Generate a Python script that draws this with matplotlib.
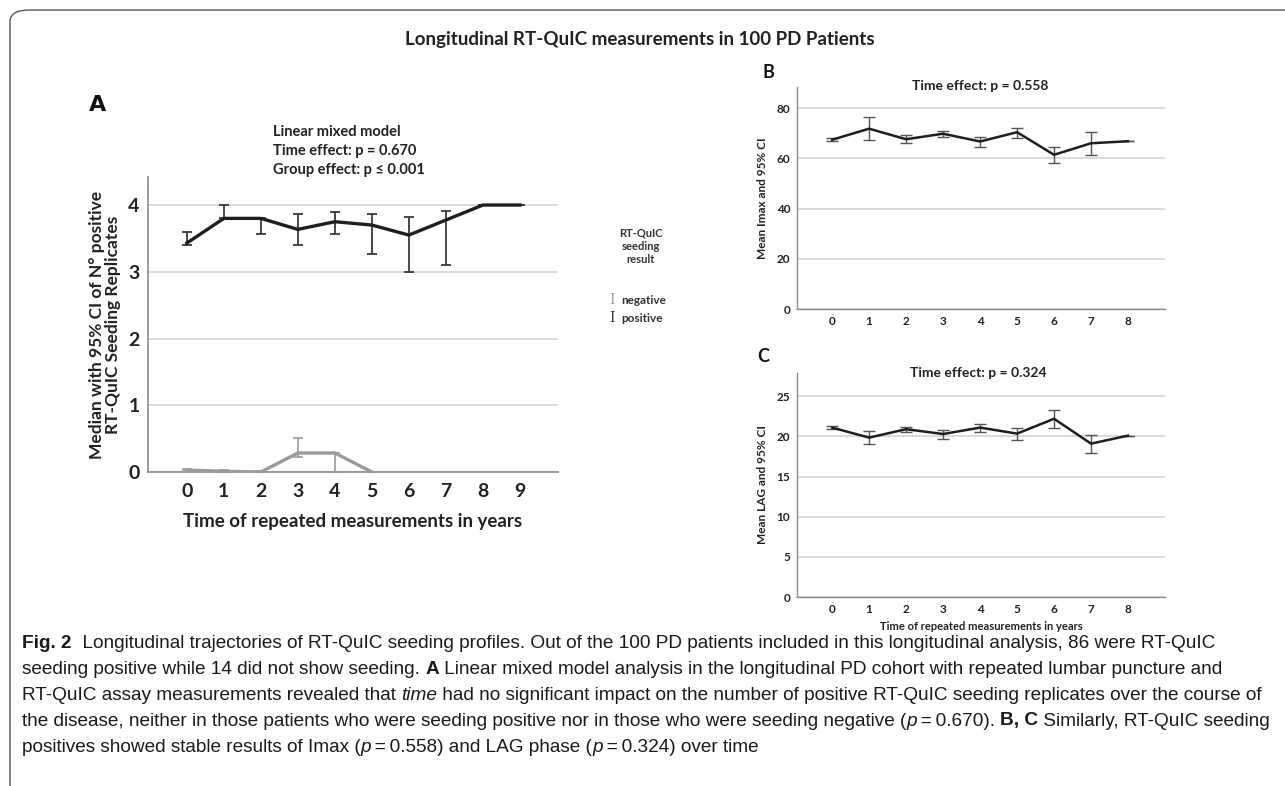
import matplotlib
matplotlib.use("Agg")
import matplotlib.pyplot as plt
from matplotlib.patches import FancyBboxPatch
import numpy as np

# ---------------- data ----------------
years_a = [0, 1, 2, 3, 4, 5, 6, 7, 8, 9]
pos_median = [3.43, 3.80, 3.80, 3.635, 3.75, 3.70, 3.55, 3.775, 4.0, 4.0]
pos_lo = [3.40, 3.80, 3.57, 3.40, 3.56, 3.265, 2.99, 3.095, 4.0, 4.0]
pos_hi = [3.60, 4.00, 3.80, 3.86, 3.89, 3.86, 3.815, 3.915, 4.0, 4.0]

years_neg = [0, 1, 2, 3, 4, 5]
neg_median = [0.03, 0.01, 0.0, 0.285, 0.285, 0.0]
neg_lo = [0.01, 0.0, 0.0, 0.22, 0.0, 0.0]
neg_hi = [0.05, 0.03, 0.02, 0.51, 0.285, 0.0]

years_bc = [0, 1, 2, 3, 4, 5, 6, 7, 8]
imax_mean = [67.4, 71.8, 67.6, 69.8, 66.7, 70.4, 61.4, 66.0, 66.8]
imax_lo = [67.0, 67.2, 66.2, 68.4, 64.6, 68.2, 58.2, 61.4, 66.8]
imax_hi = [68.0, 76.3, 69.1, 71.0, 68.4, 72.1, 64.5, 70.4, 66.8]

lag_mean = [21.1, 19.85, 20.9, 20.3, 21.1, 20.35, 22.2, 19.1, 20.1]
lag_lo = [20.9, 19.1, 20.6, 19.7, 20.6, 19.5, 21.0, 17.9, 20.1]
lag_hi = [21.3, 20.7, 21.2, 20.8, 21.55, 21.05, 23.3, 20.2, 20.1]

a_yticks = [0, 1, 2, 3, 4]
b_yticks = [0, 20, 40, 60, 80]
c_yticks = [0, 5, 10, 15, 20, 25]

W, H = 1285, 786
CF = ["Lato", "DejaVu Sans"]
fig = plt.figure(figsize=(W / 100, H / 100), dpi=100)
fig.patch.set_facecolor("white")


def fx(px):
    return px / W


def fy(py):
    return 1 - py / H


# frame
frame = FancyBboxPatch((fx(10), fy(800)), fx(1300), fy(10) - fy(800),
                       boxstyle="round,pad=0,rounding_size=0.015",
                       transform=fig.transFigure, fill=False,
                       edgecolor="#555555", linewidth=1.0, zorder=0)
fig.patches.append(frame)

GRID = "#d4d4d4"
SPINE = "#8c8c8c"


def style_axes(ax, yticks, size):
    for s in ["top", "right"]:
        ax.spines[s].set_visible(False)
    for s in ["left", "bottom"]:
        ax.spines[s].set_color(SPINE)
        ax.spines[s].set_linewidth(1.2)
    ax.set_yticks(yticks)
    ax.tick_params(length=0, labelsize=size, colors="#222222", pad=5)
    for lab in ax.get_xticklabels() + ax.get_yticklabels():
        lab.set_fontfamily(CF)
        lab.set_fontweight("bold")
    ax.yaxis.grid(True, color=GRID, linewidth=1.2)
    ax.set_axisbelow(True)


# ---------------- panel A ----------------
axA = fig.add_axes([fx(148), fy(472), fx(410), fy(177) - fy(472)])
axA.set_xlim(-1.05, 10.03)
axA.set_ylim(0, 4.42)
axA.set_xticks(years_a)
style_axes(axA, a_yticks, 14)
axA.tick_params(axis="x", pad=8)
axA.tick_params(axis="y", pad=6)

neg_m = np.array(neg_median)
axA.errorbar(years_neg, neg_m, yerr=[neg_m - np.array(neg_lo), np.array(neg_hi) - neg_m],
             color="#9a9a9a", linewidth=2.4, ecolor="#9a9a9a", elinewidth=1.2,
             capsize=3.6, capthick=1.2, zorder=3)
pos_m = np.array(pos_median)
axA.errorbar(years_a, pos_m, yerr=[pos_m - np.array(pos_lo), np.array(pos_hi) - pos_m],
             color="#1e1e1e", linewidth=2.4, ecolor="#3a3a3a", elinewidth=1.3,
             capsize=3.8, capthick=1.3, zorder=4)

axA.set_xlabel("Time of repeated measurements in years", fontsize=13.5,
               fontweight="bold", family=CF, color="#222222", labelpad=9)
axA.set_ylabel("Median with 95% CI of N° positive\nRT-QuIC Seeding Replicates",
               fontsize=12.5, fontweight="bold", family=CF, color="#222222",
               labelpad=5, linespacing=1.05)

fig.text(fx(273), fy(125), "Linear mixed model\nTime effect: p = 0.670\nGroup effect: p \u2264 0.001",
         fontsize=10.5, fontweight="bold", family=CF, color="#222222",
         va="top", ha="left", linespacing=1.45)
fig.text(fx(98), fy(105), "A", fontsize=16, fontweight="bold", family="DejaVu Sans",
         color="#111111", ha="center", va="center")

# legend
fig.text(fx(641), fy(246), "RT-QuIC\nseeding\nresult", fontsize=8, fontweight="bold",
         family=CF, color="#333333", ha="center", va="center", linespacing=1.25)
fig.text(fx(612), fy(300), "I", fontsize=10, family="DejaVu Serif", color="#a0a0a0",
         ha="center", va="center")
fig.text(fx(621), fy(300), "negative", fontsize=8.5, fontweight="bold", family=CF,
         color="#333333", ha="left", va="center")
fig.text(fx(612), fy(318), "I", fontsize=10, family="DejaVu Serif", color="#333333",
         ha="center", va="center")
fig.text(fx(621), fy(318), "positive", fontsize=8.5, fontweight="bold", family=CF,
         color="#333333", ha="left", va="center")


# ---------------- panels B, C ----------------
def small_panel(top, bottom, means, lo, hi, ylim, yticks, ylabel):
    ax = fig.add_axes([fx(797), fy(bottom), fx(368), fy(top) - fy(bottom)])
    ax.set_xlim(-0.95, 9.0)
    ax.set_ylim(0, ylim)
    ax.set_xticks(years_bc)
    style_axes(ax, yticks, 8.5)
    m = np.array(means)
    ax.errorbar(years_bc, m, yerr=[m - np.array(lo), np.array(hi) - m],
                color="#1e1e1e", linewidth=1.8, ecolor="#555555", elinewidth=1.0,
                capsize=4, capthick=1.0, zorder=4)
    ax.set_ylabel(ylabel, fontsize=8.5, fontweight="bold", family=CF,
                  color="#222222", labelpad=6)
    ax.spines["left"].set_linewidth(1.0)
    ax.spines["bottom"].set_linewidth(1.0)
    return ax


axB = small_panel(87, 309, imax_mean, imax_lo, imax_hi, 88.4, b_yticks, "Mean Imax and 95% CI")
axC = small_panel(373, 597, lag_mean, lag_lo, lag_hi, 27.9, c_yticks, "Mean LAG and 95% CI")
axC.set_xlabel("Time of repeated measurements in years", fontsize=8, fontweight="bold",
               family=CF, color="#222222", labelpad=4)

fig.text(fx(980), fy(86), "Time effect: p = 0.558", fontsize=10, fontweight="bold",
         family=CF, color="#222222", ha="center", va="center")
fig.text(fx(978), fy(373), "Time effect: p = 0.324", fontsize=10, fontweight="bold",
         family=CF, color="#222222", ha="center", va="center")
fig.text(fx(768), fy(72), "B", fontsize=13, fontweight="bold", family=CF,
         color="#111111", ha="center", va="center")
fig.text(fx(763), fy(357), "C", fontsize=13, fontweight="bold", family=CF,
         color="#111111", ha="center", va="center")

fig.text(fx(640), fy(40), "Longitudinal RT-QuIC measurements in 100 PD Patients",
         fontsize=13.5, fontweight="bold", family=CF, color="#222222",
         ha="center", va="center")

# ---------------- caption ----------------
CAP = ["Liberation Sans", "DejaVu Sans"]
cap_lines = [
    [("Fig. 2", "bold"), ("  Longitudinal trajectories of RT-QuIC seeding profiles. Out of the 100 PD patients included in this longitudinal analysis, 86 were RT-QuIC", "normal")],
    [("seeding positive while 14 did not show seeding. ", "normal"), ("A", "bold"), (" Linear mixed model analysis in the longitudinal PD cohort with repeated lumbar puncture and", "normal")],
    [("RT-QuIC assay measurements revealed that ", "normal"), ("time", "italic"), (" had no significant impact on the number of positive RT-QuIC seeding replicates over the course of", "normal")],
    [("the disease, neither in those patients who were seeding positive nor in those who were seeding negative (", "normal"), ("p", "italic"), ("\u2009=\u20090.670). ", "normal"), ("B, C", "bold"), (" Similarly, RT-QuIC seeding", "normal")],
    [("positives showed stable results of Imax (", "normal"), ("p", "italic"), ("\u2009=\u20090.558) and LAG phase (", "normal"), ("p", "italic"), ("\u2009=\u20090.324) over time", "normal")],
]
cap_y = [643, 669, 695, 721, 747]

renderer = fig.canvas.get_renderer()


def make_run(x, y, text, st, size):
    kw = dict(fontsize=size, family=CAP, color="#1a1a1a", va="center", ha="left")
    if st == "bold":
        kw["fontweight"] = "bold"
    elif st == "italic":
        kw["fontstyle"] = "italic"
    return fig.text(x, y, text, **kw)


def line_width(runs, size):
    total = 0
    for text, st in runs:
        t = make_run(0, 0, text, st, size)
        total += t.get_window_extent(renderer).width
        t.remove()
    return total


ref = line_width(cap_lines[2], 10)
cap_size = 10 * 1252 / ref

for runs, py in zip(cap_lines, cap_y):
    x = fx(22)
    for text, st in runs:
        t = make_run(x, fy(py), text, st, cap_size)
        x += t.get_window_extent(renderer).width / W

fig.savefig("out.png", dpi=100, facecolor="white")
